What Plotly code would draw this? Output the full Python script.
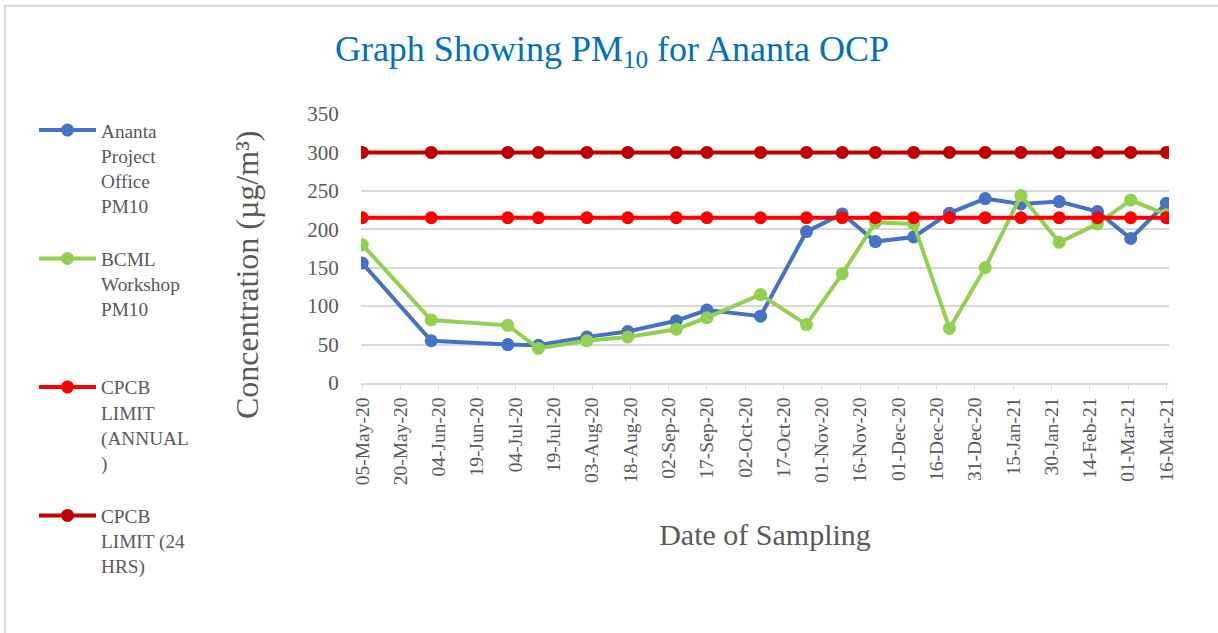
import plotly.graph_objects as go

# sampling dates and readings (µg/m³)
dates = ['2020-05-05', '2020-06-01', '2020-07-01', '2020-07-13', '2020-08-01',
         '2020-08-17', '2020-09-05', '2020-09-17', '2020-10-08', '2020-10-26',
         '2020-11-09', '2020-11-22', '2020-12-07', '2020-12-21', '2021-01-04',
         '2021-01-18', '2021-02-02', '2021-02-17', '2021-03-02', '2021-03-16']
ananta = [156, 55, 50, 49, 60, 67, 81, 95, 87, 197,
          220, 184, 190, 221, 240, 233, 236, 223, 188, 234]
bcml = [180, 82, 75, 45, 55, 60, 70, 85, 115, 76,
        142, 209, 207, 71, 150, 244, 183, 207, 238, 219]
limit_annual = [215] * len(dates)
limit_24hr = [300] * len(dates)

# blank lines pad every legend entry to the same height, as in the original
series_names = ['Ananta<br>Project<br>Office<br>PM10<br> ',
                'BCML<br>Workshop<br>PM10<br> <br> ',
                'CPCB<br>LIMIT<br>(ANNUAL<br>)<br> ',
                'CPCB<br>LIMIT (24<br>HRS)']
series_colors = ['#4472C4', '#92D050', '#FF0000', '#C00000']

FONT = 'Liberation Serif'
GREY = '#595959'

L, R, T, B = 361, 49, 114, 250
W, H = 1218, 633
pw, ph = W - L - R, H - T - B

fig = go.Figure()
for name, ys, col in zip(series_names, [ananta, bcml, limit_annual, limit_24hr], series_colors):
    fig.add_trace(go.Scatter(
        x=dates, y=ys, name=name, mode='lines+markers',
        line=dict(color=col, width=4),
        marker=dict(color=col, size=13),
    ))

fig.update_layout(
    width=W, height=H,
    margin=dict(l=L, r=R, t=T, b=B),
    plot_bgcolor='white', paper_bgcolor='white',
    font=dict(family=FONT, color=GREY, size=20),
    title=dict(text='Graph Showing PM<sub>10</sub> for Ananta OCP',
               font=dict(family=FONT, color='#0070C0', size=36),
               x=612 / W, xanchor='center', y=1 - 48 / H, yanchor='middle'),
    showlegend=True,
    legend=dict(x=(34 - L) / pw, xanchor='left', y=1 + (T - 111) / ph, yanchor='top',
                maxheight=600, valign='top', itemwidth=57,
                font=dict(size=19.3, color=GREY),
                bgcolor='rgba(0,0,0,0)', tracegroupgap=0),
    xaxis=dict(
        type='date', range=['2020-05-04 12:00', '2021-03-17'],
        tick0='2020-05-05', dtick=15 * 86400000, tickformat='%d-%b-%y',
        tickangle=-90, tickfont=dict(size=19.5, color=GREY),
        ticks='outside', ticklen=5, tickcolor='#D9D9D9',
        showline=True, linecolor='#D9D9D9', linewidth=1.5, showgrid=False,
        title=dict(text='Date of Sampling', font=dict(size=30, color=GREY), standoff=40),
        automargin=False,
    ),
    yaxis=dict(
        range=[0, 350], dtick=50, tickfont=dict(size=21, color=GREY),
        ticks='outside', ticklen=17, tickcolor='rgba(0,0,0,0)',
        showgrid=True, gridcolor='#D9D9D9', gridwidth=1.5, zeroline=False,
        showline=False, automargin=False,
    ),
    # y title as an annotation: the original sits lower than the axis middle
    annotations=[dict(text='Concentration (µg/m³)', textangle=-90, showarrow=False,
                      xref='paper', yref='paper',
                      x=(247 - L) / pw, y=(H - B - 275) / ph,
                      xanchor='center', yanchor='middle',
                      font=dict(size=32, color=GREY))],
    shapes=[dict(type='rect', xref='paper', yref='paper',
                 x0=(5 - L) / pw, x1=(W + 10 - L) / pw,
                 y0=(B + 10) / -ph, y1=1 + (T - 6) / ph,
                 line=dict(color='#D9D9D9', width=2), fillcolor='rgba(0,0,0,0)',
                 layer='below')],
)

fig.write_html('out.html', config={'displayModeBar': False},
               post_script="document.body.style.margin='0';")
